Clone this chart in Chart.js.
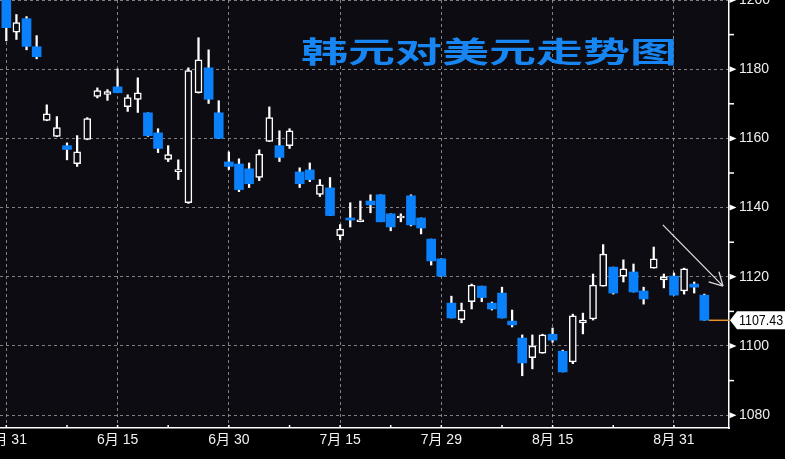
<!DOCTYPE html>
<html lang="zh">
<head>
<meta charset="UTF-8">
<title>韩元对美元走势图</title>
<script src="https://cdn.jsdelivr.net/npm/chart.js"></script>
<style>
  html, body { margin: 0; padding: 0; background: #000; }
  #wrap { width: 785px; height: 459px; }
</style>
</head>
<body>
<div id="wrap"><canvas id="fx" width="785" height="459"></canvas></div>
<script>
// trading days, 2016-05-31 .. 2016-09-05
const dates = ['05-31',
  '06-01','06-02','06-03','06-06','06-07','06-08','06-09','06-10','06-13','06-14','06-15',
  '06-16','06-17','06-20','06-21','06-22','06-23','06-24','06-27','06-28','06-29','06-30',
  '07-01','07-04','07-05','07-06','07-07','07-08','07-11','07-12','07-13','07-14','07-15',
  '07-18','07-19','07-20','07-21','07-22','07-25','07-26','07-27','07-28','07-29',
  '08-01','08-02','08-03','08-04','08-05','08-08','08-09','08-10','08-11','08-12','08-15',
  '08-16','08-17','08-18','08-19','08-22','08-23','08-24','08-25','08-26','08-29','08-30','08-31',
  '09-01','09-02','09-05'];

const open = [1201.0, 1190.7, 1194.6, 1186.5, 1165.2, 1160.6, 1157.9, 1152.7, 1159.7, 1172.1,
  1172.7, 1174.9, 1169.2, 1171.3, 1167.4, 1161.6, 1153.9, 1150.4, 1141.4, 1173.2,
  1180.4, 1167.4, 1153.2, 1152.6, 1151.2, 1148.7, 1159.1, 1157.9, 1157.9, 1150.3,
  1150.9, 1143.8, 1145.7, 1131.9, 1137.0, 1135.9, 1141.9, 1143.7, 1138.2, 1137.0,
  1143.4, 1137.0, 1130.9, 1125.2, 1112.4, 1107.6, 1112.8, 1117.3, 1112.4, 1115.3,
  1107.2, 1102.3, 1096.6, 1097.9, 1103.4, 1098.5, 1095.4, 1106.7, 1107.8, 1117.3,
  1122.8, 1120.2, 1121.4, 1115.9, 1122.5, 1119.1, 1120.2, 1115.9, 1117.9, 1114.7];
const high = [1202.0, 1195.8, 1195.2, 1189.7, 1169.7, 1166.3, 1158.7, 1160.8, 1166.0, 1174.6,
  1174.1, 1180.1, 1172.6, 1177.5, 1167.4, 1162.8, 1157.9, 1153.8, 1180.4, 1189.1,
  1185.6, 1170.9, 1156.1, 1154.1, 1152.9, 1156.7, 1169.1, 1162.2, 1162.8, 1151.5,
  1152.9, 1148.1, 1148.7, 1135.1, 1141.4, 1141.9, 1143.7, 1143.7, 1138.2, 1138.2,
  1143.7, 1137.0, 1130.9, 1125.2, 1114.4, 1112.4, 1117.9, 1117.3, 1112.7, 1117.0,
  1110.4, 1103.2, 1103.2, 1103.4, 1105.2, 1098.8, 1109.2, 1109.5, 1120.8, 1129.3,
  1122.8, 1124.9, 1123.7, 1117.0, 1128.6, 1120.8, 1121.1, 1122.5, 1118.5, 1115.0];
const low = [1188.2, 1188.6, 1185.6, 1183.0, 1165.1, 1160.5, 1153.8, 1151.9, 1159.6, 1171.7,
  1171.0, 1173.2, 1167.8, 1167.5, 1160.6, 1155.9, 1153.3, 1148.1, 1141.2, 1173.1,
  1170.1, 1160.0, 1151.0, 1144.6, 1145.8, 1147.8, 1159.1, 1153.3, 1157.1, 1145.8,
  1147.5, 1143.2, 1137.7, 1130.7, 1134.4, 1135.9, 1138.5, 1135.9, 1133.3, 1135.9,
  1134.7, 1132.4, 1123.4, 1120.2, 1108.1, 1106.7, 1110.7, 1112.8, 1110.4, 1108.1,
  1105.5, 1091.4, 1093.4, 1097.9, 1101.1, 1092.5, 1094.9, 1103.5, 1107.5, 1117.3,
  1115.0, 1118.5, 1115.6, 1112.1, 1122.5, 1116.8, 1114.7, 1115.0, 1115.3, 1107.43];
const close = [1192.0, 1193.5, 1186.6, 1183.6, 1167.1, 1163.1, 1156.8, 1156.1, 1165.7, 1173.8,
  1173.5, 1173.2, 1171.8, 1173.2, 1160.8, 1157.1, 1155.3, 1150.5, 1179.6, 1182.7,
  1171.3, 1160.0, 1151.9, 1145.2, 1146.9, 1155.5, 1166.0, 1154.5, 1162.2, 1146.9,
  1148.1, 1146.6, 1137.7, 1133.8, 1136.4, 1136.0, 1140.8, 1135.9, 1134.4, 1137.1,
  1135.0, 1134.1, 1124.6, 1120.2, 1108.1, 1110.4, 1117.6, 1114.0, 1110.7, 1108.1,
  1106.1, 1095.1, 1100.0, 1103.2, 1101.7, 1092.5, 1108.7, 1107.5, 1117.6, 1126.6,
  1115.3, 1122.3, 1115.6, 1113.6, 1125.2, 1120.0, 1114.7, 1122.3, 1117.0, 1107.43];

const tickDates = ['05-31', '06-15', '06-30', '07-15', '07-29', '08-15', '08-31'];
const tickLabels = ['5月 31', '6月 15', '6月 30', '7月 15', '7月 29', '8月 15', '8月 31'];
const minorTickDates = ['06-08', '06-22', '07-08', '07-22', '08-08', '08-23'];
const priceTicks = [1080, 1090, 1100, 1110, 1120, 1130, 1140, 1150, 1160, 1170, 1180, 1190, 1200];
const lastPrice = 1107.43;
const titleText = '韩元对美元走势图';
const arrowFrom = [64.9, 1135.0];   // [day index, price]
const arrowTo = [70.85, 1117.3];

const BLUE = '#0a80fa';
const PLOT_BG = '#0c0c12';
const GRID = 'rgba(150,150,150,0.85)';
const FONT = '"Liberation Sans", "Noto Sans CJK SC", sans-serif';

const majorIdx = tickDates.map(d => dates.indexOf(d));
const minorIdx = minorTickDates.map(d => dates.indexOf(d));

const wicks = dates.map((d, i) => ({ x: i, y: [low[i], high[i]] }));
const upBodies = [], downBodies = [];
dates.forEach((d, i) => {
  (close[i] >= open[i] ? upBodies : downBodies).push({ x: i, y: [open[i], close[i]] });
});

const isMajorY = v => Math.abs(v % 20) < 1e-6;

const background = {
  id: 'background',
  beforeDraw(chart) {
    const { ctx, chartArea: a } = chart;
    ctx.save();
    ctx.fillStyle = '#000';
    ctx.fillRect(0, 0, chart.width, chart.height);
    ctx.fillStyle = PLOT_BG;
    ctx.fillRect(a.left, a.top, a.right - a.left, a.bottom - a.top);
    ctx.restore();
  }
};

const overlay = {
  id: 'overlay',
  afterDraw(chart) {
    const { ctx, chartArea: a, scales: { x, y } } = chart;
    ctx.save();
    ctx.fillStyle = '#fff';
    // right axis markers
    y.ticks.forEach(t => {
      const py = y.getPixelForValue(t.value);
      if (isMajorY(t.value)) {
        ctx.beginPath();
        ctx.moveTo(a.right + 0.5, py - 3);
        ctx.lineTo(a.right + 7.5, py);
        ctx.lineTo(a.right + 0.5, py + 3);
        ctx.closePath();
        ctx.fill();
      } else {
        ctx.fillRect(a.right, py - 0.75, 5, 1.5);
      }
    });
    // small ticks pointing up from the date axis
    majorIdx.concat(minorIdx).forEach(i => {
      const px = x.getPixelForValue(i);
      ctx.fillRect(px - 0.75, a.bottom - 3, 1.5, 3);
    });

    // last price line and label
    const last = dates.length - 1;
    const ly = y.getPixelForValue(lastPrice);
    ctx.strokeStyle = '#e8922c';
    ctx.lineWidth = 1.5;
    ctx.beginPath();
    ctx.moveTo(x.getPixelForValue(last) + 4.5, ly);
    ctx.lineTo(a.right, ly);
    ctx.stroke();
    ctx.fillStyle = '#fff';
    ctx.beginPath();
    ctx.moveTo(a.right + 1, ly);
    ctx.lineTo(a.right + 8, ly - 9);
    ctx.lineTo(chart.width, ly - 9);
    ctx.lineTo(chart.width, ly + 9);
    ctx.lineTo(a.right + 8, ly + 9);
    ctx.closePath();
    ctx.fill();
    ctx.save();
    ctx.fillStyle = '#000';
    ctx.font = '15px ' + FONT;
    ctx.textAlign = 'left';
    ctx.textBaseline = 'middle';
    ctx.translate(a.right + 10, ly + 1);
    ctx.scale(0.83, 1);
    ctx.fillText(lastPrice.toFixed(2), 0, 0);
    ctx.restore();

    // arrow
    const x1 = x.getPixelForValue(arrowFrom[0]), y1 = y.getPixelForValue(arrowFrom[1]);
    const x2 = x.getPixelForValue(arrowTo[0]), y2 = y.getPixelForValue(arrowTo[1]);
    const ang = Math.atan2(y2 - y1, x2 - x1);
    ctx.strokeStyle = '#dcdcdc';
    ctx.lineWidth = 1.3;
    ctx.beginPath();
    ctx.moveTo(x1, y1);
    ctx.lineTo(x2, y2);
    [-0.5, 0.5].forEach(d => {
      ctx.moveTo(x2, y2);
      ctx.lineTo(x2 - 15 * Math.cos(ang + d), y2 - 15 * Math.sin(ang + d));
    });
    ctx.stroke();

    // title
    ctx.fillStyle = '#1886f2';
    ctx.font = 'bold 29px "Noto Sans CJK SC", sans-serif';
    ctx.textAlign = 'center';
    ctx.textBaseline = 'middle';
    ctx.translate(489, 52);
    ctx.scale(1.62, 1);
    ctx.fillText(titleText, 0, 0);
    ctx.restore();
  }
};

new Chart(document.getElementById('fx'), {
  type: 'bar',
  data: {
    datasets: [
      { label: 'range', data: wicks, backgroundColor: '#fff', barThickness: 1.6, grouped: false, order: 3 },
      { label: 'up', data: upBodies, backgroundColor: PLOT_BG, borderColor: '#fff', borderWidth: 1.5,
        borderSkipped: false, barThickness: 7, minBarLength: 2, grouped: false, order: 1 },
      { label: 'down', data: downBodies, backgroundColor: BLUE, borderWidth: 0,
        barThickness: 9, minBarLength: 2, grouped: false, order: 1 }
    ]
  },
  options: {
    responsive: false,
    animation: false,
    events: [],
    layout: { padding: 0 },
    plugins: { legend: { display: false }, tooltip: { enabled: false } },
    scales: {
      x: {
        type: 'linear',
        min: -0.623,
        max: 71.44,
        offset: false,
        afterBuildTicks: s => {
          s.ticks = majorIdx.concat(minorIdx).sort((p, q) => p - q).map(v => ({ value: v }));
        },
        afterFit: s => { s.height = 31; s.paddingLeft = 0; s.paddingRight = 0; },
        ticks: {
          autoSkip: false, maxRotation: 0, padding: 1, color: '#f2f2f2',
          font: { family: FONT, size: 14 },
          callback: v => { const k = majorIdx.indexOf(v); return k >= 0 ? tickLabels[k] : ''; }
        },
        grid: {
          offset: false,
          color: c => majorIdx.includes(c.tick && c.tick.value) ? GRID : 'transparent',
          lineWidth: 1, tickColor: 'transparent', tickLength: 3
        },
        border: { color: '#fff', width: 1.5, dash: [3, 3] }
      },
      y: {
        position: 'right',
        min: 1076.3,
        max: 1200,
        afterBuildTicks: s => { s.ticks = priceTicks.map(v => ({ value: v })); },
        afterFit: s => { s.width = 56; s.paddingTop = 0; s.paddingBottom = 0; },
        ticks: {
          padding: 1, color: '#eeeeee',
          font: { family: FONT, size: 14 },
          callback: v => isMajorY(v) ? String(v) : ''
        },
        grid: {
          color: c => (c.tick && isMajorY(c.tick.value)) ? GRID : 'transparent',
          lineWidth: 1, tickColor: 'transparent', tickLength: 9
        },
        border: { color: '#fff', width: 1.5, dash: [3, 3] }
      }
    }
  },
  plugins: [background, overlay]
});
</script>
</body>
</html>
